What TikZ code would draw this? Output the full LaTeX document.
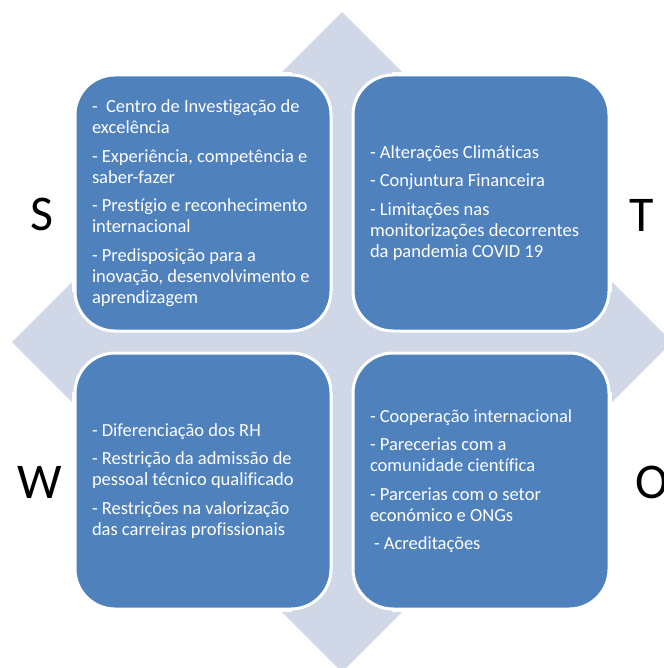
\documentclass[tikz,border=0pt]{standalone}
\usepackage{fontspec}
\setmainfont{Carlito}[Ligatures={NoCommon}]
\definecolor{swotblue}{HTML}{4F81BD}
\definecolor{swotgray}{HTML}{D0D8E8}
\tikzset{
  quadrant/.style={draw=white, line width=3pt, fill=swotblue, rounded corners=40pt,
    minimum width=256pt, minimum height=256pt, text width=222pt, align=flush left,
    inner sep=0pt, text=white, font=\fontsize{18.5}{21}\selectfont},
  letter/.style={font=\fontsize{50}{60}\selectfont}
}

\begin{document}
\begin{tikzpicture}[x=1pt,y=-1pt]
\useasboundingbox (0,0) rectangle (663,668);
%% four-headed arrow behind the boxes
\fill[swotgray] (342,12) -- (402,72) -- (392,72) -- (392,292) -- (612,292) -- (612,282)
    -- (672,342) -- (612,402) -- (612,392) -- (392,392) -- (392,612) -- (402,612)
    -- (342,672) -- (282,612) -- (292,612) -- (292,392) -- (72,392) -- (72,402)
    -- (12,342) -- (72,282) -- (72,292) -- (292,292) -- (292,72) -- (282,72) -- cycle;

\node[quadrant] (strengths) at (203,203) {-~ Centro de Investigação de\\ excelência\\[7.5pt]
    - Experiência, competência e\\ saber-fazer\\[7.5pt]
    - Prestígio e reconhecimento\\ internacional\\[7.5pt]
    - Predisposição para a\\ inovação, desenvolvimento e\\ aprendizagem};
\node[quadrant] (threats) at (481,203) {- Alterações Climáticas\\[7.5pt]
    - Conjuntura Financeira\\[7.5pt]
    - Limitações nas\\ monitorizações decorrentes\\ da pandemia COVID 19};
\node[quadrant] (weaknesses) at (203,481) {- Diferenciação dos RH\\[7.5pt]
    - Restrição da admissão de\\ pessoal técnico qualificado\\[7.5pt]
    - Restrições na valorização\\ das carreiras profissionais};
\node[quadrant] (opportunities) at (481,481) {- Cooperação internacional\\[7.5pt]
    - Parecerias com a\\ comunidade científica\\[7.5pt]
    - Parcerias com o setor\\ económico e ONGs\\[7.5pt]
    \hspace*{4pt}- Acreditações};

%% the four letters
\node[letter] (S) at (42,214) {S};
\node[letter] (T) at (642,215) {T};
\node[letter] (W) at (40,482) {W};
\node[letter] (O) at (652,482) {O};
\end{tikzpicture}
\end{document}
